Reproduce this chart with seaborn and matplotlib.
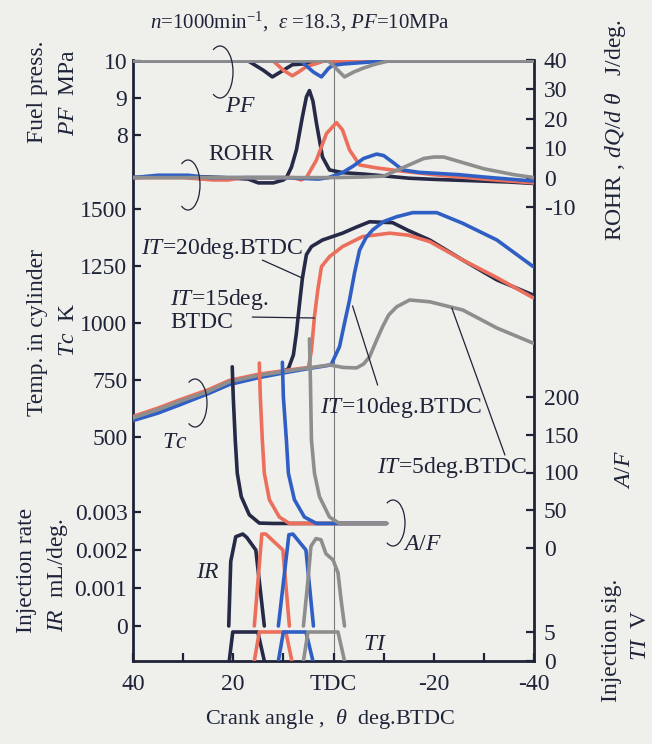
import matplotlib
matplotlib.use("Agg")
import matplotlib.pyplot as plt
from matplotlib.patches import Arc
import seaborn as sns

# ---------------- data (crank angle, deg BTDC) ----------------
series_names = ["IT=20", "IT=15", "IT=10", "IT=5"]

# Fuel pressure PF [MPa]
pf_x_20 = [40, 17, 14, 12.2, 10, 8.2, 6, 4, 2, 0, -40]
pf_y_20 = [10, 10, 9.75, 9.57, 9.75, 9.9, 9.92, 9.95, 10, 10, 10]
pf_x_15 = [40, 12, 10, 8.2, 7, 5.4, 3, 2, -40]
pf_y_15 = [10, 10, 9.75, 9.6, 9.7, 9.85, 9.95, 10, 10]
pf_x_10 = [40, 6.5, 4, 2.4, 1, 0.2, -2, -5, -10, -40]
pf_y_10 = [10, 10, 9.7, 9.57, 9.8, 9.88, 9.92, 9.95, 10, 10]
pf_x_5 = [40, 1, -0.5, -2.2, -4, -5.8, -8, -10, -11, -40]
pf_y_5 = [10, 10, 9.8, 9.57, 9.7, 9.8, 9.9, 9.97, 10, 10]

# Rate of heat release ROHR [J/deg]
rohr_x_20 = [40, 30, 22, 17, 15, 12, 10, 9.4, 8.4, 7.4, 6.2, 5.4, 4.8, 4.1, 3.4, 2.2, 0.8, -1.8, -6, -10, -15, -20, -25, -30, -35, -40]
rohr_y_20 = [0, 0.5, 0, -0.5, -1.8, -1.8, -0.8, 0, 3.5, 9.4, 20.7, 27.5, 29.6, 26, 18.5, 7, 2.6, 1.7, 1.2, 0.6, -0.2, -0.6, -0.9, -1.2, -1.5, -2.0]
rohr_x_15 = [40, 30, 24, 21, 18, 8, 6.5, 5.4, 3.4, 1.4, -0.6, -1.8, -3.2, -5.2, -8.6, -12.6, -20, -30, -40]
rohr_y_15 = [0, 0, -0.8, -0.8, 0, 0, -0.8, 0, 6, 15, 18.7, 16.2, 9.4, 4.3, 3.3, 2.4, 1.0, -0.5, -1.8]
rohr_x_10 = [40, 35, 29, 25, 10, 3, 1, -1.8, -4, -6, -8.6, -10, -12, -13.8, -17, -20, -25, -30, -35, -40]
rohr_y_10 = [0, 0.8, 0.8, 0, 0, -0.5, 0, 1.7, 4, 6.5, 8, 7.5, 5, 2.6, 1.8, 1.5, 1.0, 0.2, -0.5, -1.2]
rohr_x_5 = [40, 20, 0, -6, -10, -12, -14, -16, -18, -20, -22, -24, -26, -28, -30, -33, -36, -40]
rohr_y_5 = [0, 0, 0, 0.2, 0.5, 2, 3.5, 5, 6.5, 7.0, 7.0, 6, 5, 4, 3, 2, 1, 0]

# In-cylinder temperature Tc [K]
tc_x_20 = [40, 35, 30.8, 25, 20.8, 15, 10.2, 9, 8, 7.4, 6.8, 6.2, 5.4, 4.4, 2.2, -1.8, -4.5, -7.2, -11.8, -15, -19.2, -25.8, -32.6, -39.8]
tc_y_20 = [584, 620, 655, 700, 742, 770, 786, 800, 860, 956, 1080, 1197, 1300, 1335, 1364, 1394, 1420, 1444, 1440, 1405, 1364, 1276, 1189, 1123]
tc_x_15 = [40, 35, 30.8, 25, 20.8, 15, 10.2, 5, 4.4, 3.8, 3.1, 2.4, 0.8, -1.8, -5.8, -11.2, -15, -19.2, -25.8, -32.6, -39.8]
tc_y_15 = [590, 627, 662, 707, 748, 775, 790, 805, 880, 1028, 1150, 1247, 1291, 1335, 1379, 1394, 1385, 1357, 1276, 1199, 1111]
tc_x_10 = [40, 35, 30.8, 25, 20.8, 15, 10.2, 5, 0.5, -1.2, -2.2, -3.2, -4.2, -5.2, -6.5, -7.8, -10, -12.6, -15.8, -20.6, -25.8, -32.6, -39.8]
tc_y_10 = [572, 605, 640, 690, 730, 760, 780, 800, 816, 896, 1000, 1101, 1220, 1320, 1375, 1408, 1445, 1466, 1484, 1484, 1437, 1364, 1248]
tc_x_5 = [40, 35, 30.8, 25, 20.8, 15, 10.2, 5, 0.8, -2, -4.6, -6, -7.2, -8.5, -9.8, -11, -12.6, -15.2, -19.2, -25.8, -32.6, -39.8]
tc_y_5 = [584, 620, 655, 700, 742, 770, 786, 803, 816, 805, 803, 820, 852, 920, 984, 1035, 1071, 1101, 1093, 1057, 978, 912]

# Air/fuel ratio A/F
af_x_20 = [20.2, 20.0, 19.6, 19.2, 18.4, 16.8, 14.8, 12, 5, 0, -10.6]
af_y_20 = [240, 200, 143, 99, 68, 44, 33, 32.5, 32.5, 32.5, 32.5]
af_x_15 = [14.8, 14.6, 14.2, 13.8, 12.8, 10.8, 8.8, 5, 0, -10.6]
af_y_15 = [245, 200, 143, 99, 64, 41, 32.5, 32.5, 32.5, 32.5]
af_x_10 = [10.2, 10.0, 9.4, 9.0, 7.8, 5.8, 3.4, 0, -10.6]
af_y_10 = [246, 200, 143, 99, 64, 41, 32.5, 32.5, 32.5]
af_x_5 = [4.8, 4.6, 4.4, 3.8, 2.8, 0.8, -1.2, -10.6]
af_y_5 = [277, 220, 143, 99, 68, 41, 32.5, 32.5]

# Injection rate IR [mL/deg]
ir_x_20 = [20.9, 20.5, 19.5, 18.1, 17.3, 15.5, 13.8]
ir_y_20 = [0, 0.0017, 0.00235, 0.00242, 0.00233, 0.0020, 0]
ir_x_15 = [15.8, 14.3, 13.5, 10.1, 8.8]
ir_y_15 = [0, 0.00242, 0.00242, 0.0020, 0]
ir_x_10 = [11.0, 8.9, 8.1, 5.5, 4.0]
ir_y_10 = [0, 0.0024, 0.00242, 0.0020, 0]
ir_x_5 = [6.0, 5.1, 4.5, 3.5, 2.5, 1.5, 0.1, -0.9, -1.5, -2.2]
ir_y_5 = [0, 0.0012, 0.0021, 0.0023, 0.00227, 0.0019, 0.00174, 0.0014, 0.0007, 0]

# Injection signal TI [V]
ti_x_20 = [20.8, 20.1, 15.1, 13.8]
ti_x_15 = [15.8, 14.8, 9.5, 8.3]
ti_x_10 = [11.0, 10.0, 5.5, 4.1]
ti_x_5 = [6.0, 5.1, -0.9, -2.2]
ti_y = [0, 5, 5, 0]

x_ticks = [40, 20, 0, -20, -40]
x_ticklabels = ["40", "20", "TDC", "-20", "-40"]
x_minor = [30, 10, -10, -30]
pf_ticks = [8, 9, 10]
rohr_ticks = [-10, 0, 10, 20, 30, 40]
tc_ticks = [500, 750, 1000, 1250, 1500]
af_ticks = [0, 50, 100, 150, 200]
ir_ticks = [0, 0.001, 0.002, 0.003]
ir_ticklabels = ["0", "0.001", "0.002", "0.003"]
ti_ticks = [0, 5]

# ---------------- style ----------------
sns.set_style("ticks")
plt.rcParams["font.family"] = ["Liberation Serif", "DejaVu Serif"]
plt.rcParams["mathtext.fontset"] = "custom"
plt.rcParams["mathtext.rm"] = "Liberation Serif"
plt.rcParams["mathtext.it"] = "Liberation Serif:italic"
plt.rcParams["mathtext.bf"] = "Liberation Serif:bold"

BG = "#efefec"
INK = "#1e2338"
COLORS = ["#262a47", "#ec6f5c", "#2f5fc4", "#8e8e8e"]
LW = 2.6
FS_T = 17
FS_A = 17
FS_L = 17

W, H = 652, 744
FL, FR, FT, FB = 133, 534, 60, 661

fig = plt.figure(figsize=(W / 100, H / 100), dpi=100, facecolor=BG)
ax = fig.add_axes([FL / W, 1 - FB / H, (FR - FL) / W, (FB - FT) / H])
ax.set_facecolor(BG)
ax.set_xlim(40, -40)
ax.set_yticks([])
ax.spines["top"].set_visible(False)
for s in ["left", "right", "bottom"]:
    ax.spines[s].set_color(INK)
    ax.spines[s].set_linewidth(2.0)
ax.set_xticks(x_ticks)
ax.set_xticklabels(x_ticklabels)
ax.set_xticks(x_minor, minor=True)
ax.tick_params(axis="x", which="both", direction="in", length=6, width=1.6,
               color=INK, labelsize=FS_T, labelcolor=INK, pad=9)
ax.axvline(0, color="#7a7a7a", lw=0.8, zorder=0)


def sub_axis(v1, p1, v2, p2, side, ticks, labels=None, pad=4):
    a = ax.twinx()
    s = (v2 - v1) / (p2 - p1)
    a.set_ylim(v1 + (FB - p1) * s, v1 + (FT - p1) * s)
    for sp in a.spines.values():
        sp.set_visible(False)
    if side == "left":
        a.yaxis.tick_left()
    else:
        a.yaxis.tick_right()
    a.set_yticks(ticks)
    a.set_yticklabels(labels if labels is not None else [str(t) for t in ticks])
    a.tick_params(axis="y", direction="in", length=6, width=1.6, color=INK,
                  labelsize=FS_T, labelcolor=INK, pad=pad)
    return a


def draw(a, xs_list, ys_list):
    lim = a.get_ylim()
    for xs, ys, c in zip(xs_list, ys_list, COLORS):
        sns.lineplot(x=xs, y=ys, ax=a, color=c, lw=LW, sort=False,
                     estimator=None, solid_joinstyle="round")
    a.set_ylim(lim)
    a.set_xlim(40, -40)
    a.set_xlabel("")
    a.set_ylabel("")


ax_rohr = sub_axis(40, 60, -10, 207, "right", rohr_ticks, pad=7)
ax_pf = sub_axis(10, 61, 8, 135, "left", pf_ticks)
ax_tc = sub_axis(1500, 209, 500, 437, "left", tc_ticks)
ax_af = sub_axis(200, 397, 0, 548, "right", af_ticks, pad=7)
ax_ir = sub_axis(0.003, 512, 0, 626, "left", ir_ticks, ir_ticklabels)
ax_ti = sub_axis(5, 632, 0, 661, "right", ti_ticks, pad=7)
for lbl in ax_ti.get_yticklabels():
    lbl.set_va("center_baseline")

draw(ax_rohr, [rohr_x_20, rohr_x_15, rohr_x_10, rohr_x_5], [rohr_y_20, rohr_y_15, rohr_y_10, rohr_y_5])
draw(ax_pf, [pf_x_20, pf_x_15, pf_x_10, pf_x_5], [pf_y_20, pf_y_15, pf_y_10, pf_y_5])
draw(ax_tc, [tc_x_20, tc_x_15, tc_x_10, tc_x_5], [tc_y_20, tc_y_15, tc_y_10, tc_y_5])
draw(ax_af, [af_x_20, af_x_15, af_x_10, af_x_5], [af_y_20, af_y_15, af_y_10, af_y_5])
draw(ax_ir, [ir_x_20, ir_x_15, ir_x_10, ir_x_5], [ir_y_20, ir_y_15, ir_y_10, ir_y_5])
draw(ax_ti, [ti_x_20, ti_x_15, ti_x_10, ti_x_5], [ti_y] * 4)


# ---------------- annotations ----------------
def afrac(xp, yp):
    return ((xp - FL) / (FR - FL), (FB - yp) / (FB - FT))


top = ax_ti


def intext(xp, yp, s, ha="center", **kw):
    x, y = afrac(xp, yp)
    top.text(x, y, s, transform=top.transAxes, ha=ha, va="center",
             fontsize=FS_A, color=INK, **kw)


intext(241, 107, "$PF$")
intext(241, 155, "ROHR")
intext(222, 248, "$IT$=20deg.BTDC")
intext(170, 310, "$IT$=15deg.\nBTDC", ha="left", linespacing=1.0)
intext(401, 408, "$IT$=10deg.BTDC")
intext(452, 467, "$IT$=5deg.BTDC")
intext(175, 443, "$Tc$")
intext(422, 545, "$A/F$")
intext(208, 572, "$IR$")
intext(375, 645, "$TI$")

# leader lines (Tc axis data coords)
lead = dict(arrowstyle="-", color=INK, lw=0.9, shrinkA=0, shrinkB=0)
ax_tc.annotate("", xy=(6.2, 1197), xytext=(14.2, 1276), arrowprops=lead)
ax_tc.annotate("", xy=(3.8, 1022), xytext=(16.2, 1026), arrowprops=lead)
ax_tc.annotate("", xy=(-3.8, 1075), xytext=(-8.8, 728), arrowprops=lead)
ax_tc.annotate("", xy=(-23.6, 1066), xytext=(-34.2, 421), arrowprops=lead)

# curved brackets
for cx, cy, w, h in [(220, 72, 26, 52), (188, 185, 24, 50), (195, 403, 24, 48), (393, 523, 24, 46)]:
    x, y = afrac(cx, cy)
    arc = Arc((x, y), w / (FR - FL), h / (FB - FT), theta1=-115, theta2=115,
              transform=top.transAxes, color=INK, lw=0.9, clip_on=False)
    top.add_patch(arc)

# ---------------- outside labels ----------------
def ftext(xp, yp, s, rot=90, fs=FS_L, **kw):
    fig.text(xp / W, 1 - yp / H, s, rotation=rot, ha="center", va="center",
             fontsize=fs, color=INK, **kw)


fig.text(300 / W, 1 - 22 / H, "$n$=1000min$^{-1}$,  $\\varepsilon$ =18.3, $PF$=10MPa",
         ha="center", va="center", fontsize=15, color=INK)
ftext(38, 92, "Fuel press.")
ftext(68, 92, "$PF$  MPa")
ftext(38, 332, "Temp. in cylinder")
ftext(68, 330, "$Tc$  K")
ftext(27, 570, "Injection rate")
ftext(57, 575, "$IR$  mL/deg.")
ftext(615, 130, "ROHR , $dQ/d\\ \\theta$   J/deg.")
ftext(625, 470, "$A/F$")
ftext(612, 640, "Injection sig.")
ftext(640, 635, "$TI$  V")
ftext(330, 719, "Crank angle ,  $\\theta$  deg.BTDC", rot=0, fs=16)

fig.savefig("out.png", dpi=100, facecolor=BG)
